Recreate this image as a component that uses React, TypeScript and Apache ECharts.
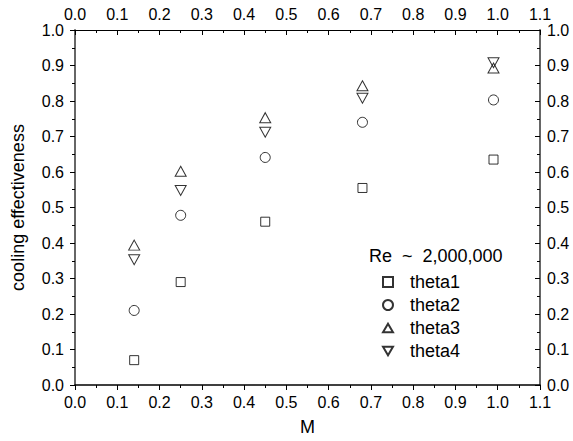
import React, { useEffect, useRef } from "react";
import * as echarts from "echarts";

const mValues = [0.14, 0.25, 0.45, 0.68, 0.99];
const theta1 = [0.07, 0.29, 0.46, 0.555, 0.635];
const theta2 = [0.21, 0.478, 0.641, 0.74, 0.803];
const theta3 = [0.394, 0.602, 0.753, 0.843, 0.893];
const theta4 = [0.353, 0.548, 0.712, 0.808, 0.908];
const seriesNames = ["theta1", "theta2", "theta3", "theta4"];
const legendTitle = "Re  ~  2,000,000";
const xAxisTitle = "M";
const yAxisTitle = "cooling effectiveness";

const FONT = "'Liberation Sans', Arial, Helvetica, sans-serif";
const DOWN_TRI = "path://M0,0 L12,0 L6,10.4 Z";
const UP_TRI = "path://M6,0 L12,10.4 L0,10.4 Z";

export default function App() {
  const ref = useRef<HTMLDivElement>(null);
  useEffect(() => {
    if (!ref.current) return;
    const chart = echarts.init(ref.current, undefined, { renderer: "svg" });
    const fmt = (v: number) => v.toFixed(1);
    const tickLabel = { fontFamily: FONT, fontSize: 16, color: "#000", formatter: fmt };
    const mk = (ys: number[]) => mValues.map((x, i) => [x, ys[i]]);
    const hollow = { color: "#fff", borderColor: "#000", borderWidth: 1 };
    const baseX = {
      type: "value" as const,
      min: 0,
      max: 1.1,
      interval: 0.1,
      splitLine: { show: false },
      minorTick: { show: true, splitNumber: 2, length: 3, lineStyle: { color: "#000" } },
    };
    const baseY = {
      type: "value" as const,
      min: 0,
      max: 1,
      interval: 0.1,
      splitLine: { show: false },
      minorTick: { show: true, splitNumber: 2, length: 3, lineStyle: { color: "#000" } },
    };
    chart.setOption({
      animation: false,
      backgroundColor: "#fff",
      grid: { left: 75, right: 33, top: 30, bottom: 55, containLabel: false },
      xAxis: [
        {
          ...baseX,
          position: "bottom",
          name: xAxisTitle,
          nameLocation: "middle",
          nameGap: 33,
          nameTextStyle: { fontFamily: FONT, fontSize: 18, color: "#000" },
          axisLine: { show: true, onZero: false, lineStyle: { color: "#000", width: 1.5 } },
          axisTick: { show: true, inside: false, length: 5, lineStyle: { color: "#000" } },
          axisLabel: { ...tickLabel, margin: 9 },
        },
        {
          ...baseX,
          position: "top",
          axisLine: { show: true, onZero: false, lineStyle: { color: "#000", width: 1 } },
          axisTick: { show: true, inside: true, length: 5, lineStyle: { color: "#000" } },
          axisLabel: { ...tickLabel, margin: 8 },
        },
      ],
      yAxis: [
        {
          ...baseY,
          position: "left",
          name: yAxisTitle,
          nameLocation: "middle",
          nameGap: 48,
          nameRotate: 90,
          nameTextStyle: { fontFamily: FONT, fontSize: 18, color: "#000" },
          axisLine: { show: true, onZero: false, lineStyle: { color: "#666", width: 2 } },
          axisTick: { show: true, inside: false, length: 5, lineStyle: { color: "#000" } },
          axisLabel: { ...tickLabel, margin: 11 },
        },
        {
          ...baseY,
          position: "right",
          axisLine: { show: true, onZero: false, lineStyle: { color: "#666", width: 2 } },
          axisTick: { show: true, inside: true, length: 5, lineStyle: { color: "#000" } },
          axisLabel: { ...tickLabel, margin: 7 },
        },
      ],
      legend: {
        orient: "vertical",
        left: 377,
        top: 268,
        itemWidth: 10,
        itemHeight: 10,
        itemGap: 5,
        textStyle: { fontFamily: FONT, fontSize: 18, color: "#000", padding: [0, 0, 0, 12] },
        data: seriesNames,
      },
      graphic: [
        {
          type: "text",
          left: 369,
          top: 247,
          style: { text: legendTitle, fontFamily: FONT, fontSize: 18, fill: "#000" },
        },
      ],
      series: [
        { name: seriesNames[0], type: "scatter", symbol: "rect", symbolSize: 9, itemStyle: hollow, data: mk(theta1) },
        { name: seriesNames[1], type: "scatter", symbol: "circle", symbolSize: 10, itemStyle: hollow, data: mk(theta2) },
        { name: seriesNames[2], type: "scatter", symbol: UP_TRI, symbolSize: [11, 10], itemStyle: { ...hollow, color: "transparent" }, data: mk(theta3) },
        { name: seriesNames[3], type: "scatter", symbol: DOWN_TRI, symbolSize: [11, 10], itemStyle: { ...hollow, color: "transparent" }, data: mk(theta4) },
      ],
    });
    return () => chart.dispose();
  }, []);
  return <div ref={ref} style={{ width: 573, height: 441, position: "absolute", left: 0, top: 0 }} />;
}
